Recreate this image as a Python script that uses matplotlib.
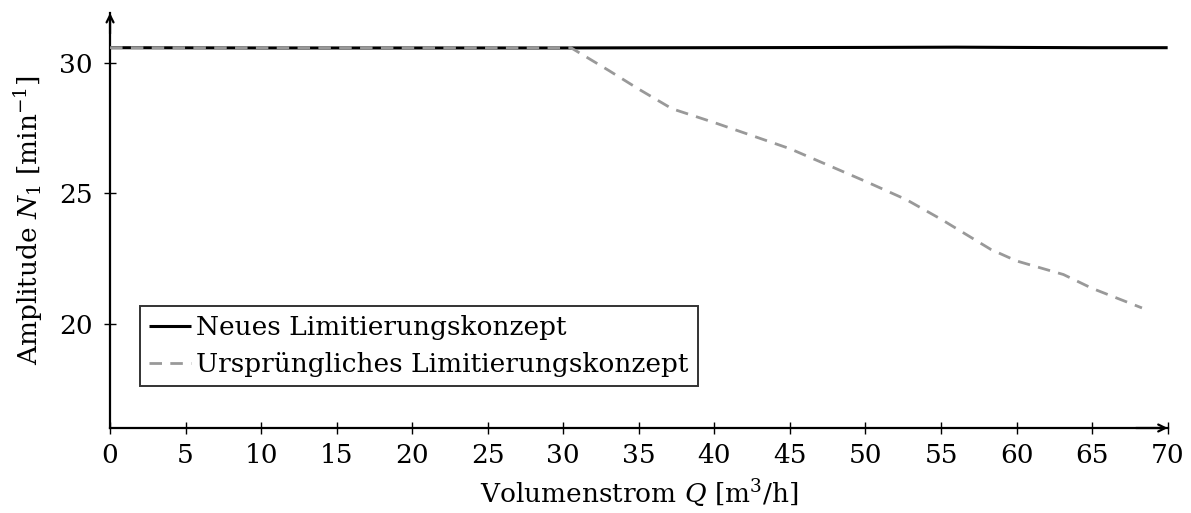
import matplotlib.pyplot as plt
import numpy as np

plt.rcParams["font.family"] = "DejaVu Serif"
plt.rcParams["mathtext.fontset"] = "dejavuserif"

# Volumenstrom Q [m^3/h] and amplitude N_1 [1/min]
q_neu = [0, 10, 20, 30, 40, 50, 56, 60, 65, 70]
n_neu = [30.57, 30.56, 30.56, 30.56, 30.57, 30.58, 30.59, 30.58, 30.57, 30.57]

q_alt = [0, 10, 20, 30.5, 33, 35, 37.2, 40, 42, 45, 48, 50, 52.7, 55,
         58.3, 60, 63.1, 65, 68.3]
n_alt = [30.57, 30.57, 30.57, 30.57, 29.7, 28.98, 28.23, 27.7, 27.3, 26.7,
         25.95, 25.45, 24.75, 24.0, 22.84, 22.4, 21.88, 21.35, 20.6]

xticks = np.arange(0, 75, 5)
yticks = [20, 25, 30]

fig = plt.figure(figsize=(11.91, 5.13), dpi=100)
ax = fig.add_axes([0.0924, 0.1657, 0.888, 0.809])

ax.plot(q_neu, n_neu, color='black', lw=2.2, solid_capstyle='butt',
        label='Neues Limitierungskonzept', zorder=3)
ax.plot(q_alt, n_alt, color='#999999', lw=2.0, dashes=(4.5, 3.0),
        label='Ursprüngliches Limitierungskonzept', zorder=4)

ax.set_xlim(0, 70)
ax.set_ylim(16, 31.9)
ax.set_xticks(xticks)
ax.set_yticks(yticks)
ax.tick_params(direction='inout', length=9, width=1.0, labelsize=19,
               pad=6)
ax.tick_params(axis='y', pad=8)

for side in ('top', 'right'):
    ax.spines[side].set_visible(False)
for side in ('left', 'bottom'):
    ax.spines[side].set_linewidth(1.6)

# axis arrows
ax.annotate('', xy=(1.0, 0), xytext=(0.97, 0), xycoords='axes fraction',
            arrowprops=dict(arrowstyle='->,head_length=0.5,head_width=0.25',
                            lw=1.6, color='black', shrinkA=0, shrinkB=0))
ax.annotate('', xy=(0, 1.0), xytext=(0, 0.95), xycoords='axes fraction',
            arrowprops=dict(arrowstyle='->,head_length=0.5,head_width=0.25',
                            lw=1.6, color='black', shrinkA=0, shrinkB=0))

ax.set_xlabel('Volumenstrom $Q$ [m$^3$/h]', fontsize=19, labelpad=7)
ax.set_ylabel('Amplitude $N_1$ [min$^{-1}$]', fontsize=19, labelpad=10)

leg = ax.legend(loc='lower left', bbox_to_anchor=(0.028, 0.101),
                borderaxespad=0, fontsize=19, frameon=True, fancybox=False,
                edgecolor='black', handlelength=1.6, handletextpad=0.2,
                borderpad=0.35, labelspacing=0.45)
leg.get_frame().set_linewidth(1.4)

fig.savefig('out.png', dpi=100)
